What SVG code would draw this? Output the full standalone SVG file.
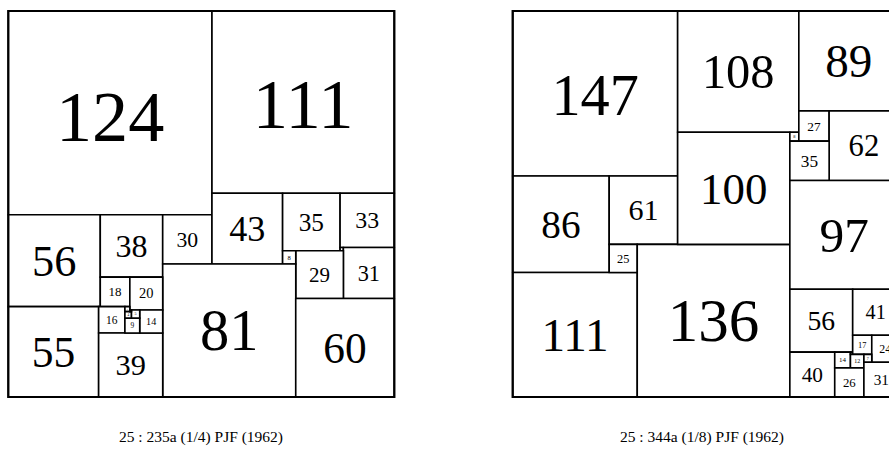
<svg xmlns="http://www.w3.org/2000/svg" width="889" height="452" viewBox="0 0 889 452">
<style>
.sq{fill:#fff;stroke:#000;stroke-width:1.6px;vector-effect:non-scaling-stroke}
.ob{fill:none;stroke:#000;stroke-width:2.2px;vector-effect:non-scaling-stroke}
.lb{font-family:"Liberation Serif","Times New Roman",serif;text-anchor:middle;fill:#000}
.cap{font-family:"Liberation Serif","Times New Roman",serif;text-anchor:middle;fill:#000;font-size:15.5px}
</style>
<rect width="889" height="452" fill="#fff"/>
<g id="left" transform="translate(8.3,11) scale(1.642553)">
<g id="L124"><rect class="sq" x="0" y="0" width="124" height="124"/><text class="lb" x="62" y="79" font-size="44">124</text></g>
<g id="L111"><rect class="sq" x="124" y="0" width="111" height="111"/><text class="lb" x="179.5" y="71" font-size="43">111</text></g>
<g id="L56"><rect class="sq" x="0" y="124" width="56" height="56"/><text class="lb" x="28" y="161.2" font-size="27">56</text></g>
<g id="L55"><rect class="sq" x="0" y="180" width="55" height="55"/><text class="lb" x="27.5" y="216.5" font-size="26.5">55</text></g>
<g id="L38"><rect class="sq" x="56" y="124" width="38" height="38"/><text class="lb" x="75" y="149.6" font-size="19.5">38</text></g>
<g id="L30"><rect class="sq" x="94" y="124" width="30" height="30"/><text class="lb" x="109" y="143.5" font-size="13.2">30</text></g>
<g id="L43"><rect class="sq" x="124" y="111" width="43" height="43"/><text class="lb" x="145.5" y="140" font-size="22">43</text></g>
<g id="L35"><rect class="sq" x="167" y="111" width="35" height="35"/><text class="lb" x="184.5" y="133.7" font-size="15.4">35</text></g>
<g id="L33"><rect class="sq" x="202" y="111" width="33" height="33"/><text class="lb" x="218.5" y="132.4" font-size="14.5">33</text></g>
<g id="L2"><rect class="sq" x="202" y="144" width="2" height="2"/></g>
<g id="L31"><rect class="sq" x="204" y="144" width="31" height="31"/><text class="lb" x="219.5" y="164.1" font-size="13.6">31</text></g>
<g id="L29"><rect class="sq" x="175" y="146" width="29" height="29"/><text class="lb" x="189.5" y="164.8" font-size="12.8">29</text></g>
<g id="L8"><rect class="sq" x="167" y="146" width="8" height="8"/><text class="lb" x="171" y="151.4" font-size="4">8</text></g>
<g id="L81"><rect class="sq" x="94" y="154" width="81" height="81"/><text class="lb" x="134.5" y="206.6" font-size="35.6">81</text></g>
<g id="L60"><rect class="sq" x="175" y="175" width="60" height="60"/><text class="lb" x="205" y="214" font-size="26.4">60</text></g>
<g id="L18"><rect class="sq" x="56" y="162" width="18" height="18"/><text class="lb" x="65" y="173.7" font-size="7.9">18</text></g>
<g id="L20"><rect class="sq" x="74" y="162" width="20" height="20"/><text class="lb" x="84" y="175" font-size="8.8">20</text></g>
<g id="L16"><rect class="sq" x="55" y="180" width="16" height="16"/><text class="lb" x="63" y="190.4" font-size="7">16</text></g>
<g id="L39"><rect class="sq" x="55" y="196" width="39" height="39"/><text class="lb" x="74.5" y="221.8" font-size="18.5">39</text></g>
<g id="L14"><rect class="sq" x="80" y="182" width="14" height="14"/><text class="lb" x="87" y="191.1" font-size="6.2">14</text></g>
<g id="L9"><rect class="sq" x="71" y="187" width="9" height="9"/><text class="lb" x="75.5" y="193" font-size="4.5">9</text></g>
<g id="L3"><rect class="sq" x="71" y="180" width="3" height="3"/><text class="lb" x="72.5" y="182" font-size="1.5">3</text></g>
<g id="L4"><rect class="sq" x="71" y="183" width="4" height="4"/><text class="lb" x="73" y="185.7" font-size="2">4</text></g>
<g id="L5"><rect class="sq" x="75" y="182" width="5" height="5"/><text class="lb" x="77.5" y="185.35" font-size="2.5">5</text></g>
<g id="L1"><rect class="sq" x="74" y="182" width="1" height="1"/></g>
<rect class="ob" x="0" y="0" width="235" height="235"/>
</g>
<g id="right" transform="translate(512.7,11) scale(1.122093)">
<g id="R147"><rect class="sq" x="0" y="0" width="147" height="147"/><text class="lb" x="73.5" y="93" font-size="52">147</text></g>
<g id="R108"><rect class="sq" x="147" y="0" width="108" height="108"/><text class="lb" x="201" y="68.7" font-size="43.2">108</text></g>
<g id="R89"><rect class="sq" x="255" y="0" width="89" height="89"/><text class="lb" x="299.5" y="58.8" font-size="42">89</text></g>
<g id="R86"><rect class="sq" x="0" y="147" width="86" height="86"/><text class="lb" x="43" y="201.9" font-size="35">86</text></g>
<g id="R111"><rect class="sq" x="0" y="233" width="111" height="111"/><text class="lb" x="55.5" y="302.8" font-size="42">111</text></g>
<g id="R61"><rect class="sq" x="86" y="147" width="61" height="61"/><text class="lb" x="116.5" y="186.6" font-size="26.8">61</text></g>
<g id="R25"><rect class="sq" x="86" y="208" width="25" height="25"/><text class="lb" x="98.5" y="224.2" font-size="11">25</text></g>
<g id="R136"><rect class="sq" x="111" y="208" width="136" height="136"/><text class="lb" x="179" y="294.5" font-size="54.4">136</text></g>
<g id="R100"><rect class="sq" x="147" y="108" width="100" height="100"/><text class="lb" x="197" y="171.6" font-size="40">100</text></g>
<g id="R8"><rect class="sq" x="247" y="108" width="8" height="8"/><text class="lb" x="251" y="113.4" font-size="4">8</text></g>
<g id="R27"><rect class="sq" x="255" y="89" width="27" height="27"/><text class="lb" x="268.5" y="106.5" font-size="11.9">27</text></g>
<g id="R62"><rect class="sq" x="282" y="89" width="62" height="62"/><text class="lb" x="313" y="129.3" font-size="27.3">62</text></g>
<g id="R35"><rect class="sq" x="247" y="116" width="35" height="35"/><text class="lb" x="264.5" y="138.7" font-size="15.4">35</text></g>
<g id="R97"><rect class="sq" x="247" y="151" width="97" height="97"/><text class="lb" x="295.5" y="214.5" font-size="44">97</text></g>
<g id="R56"><rect class="sq" x="247" y="248" width="56" height="56"/><text class="lb" x="275" y="284.4" font-size="24.6">56</text></g>
<g id="R41"><rect class="sq" x="303" y="248" width="41" height="41"/><text class="lb" x="323.5" y="274.6" font-size="18">41</text></g>
<g id="R40"><rect class="sq" x="247" y="304" width="40" height="40"/><text class="lb" x="267" y="330.5" font-size="19">40</text></g>
<g id="R14"><rect class="sq" x="287" y="304" width="14" height="14"/><text class="lb" x="294" y="313.1" font-size="6.2">14</text></g>
<g id="R2"><rect class="sq" x="301" y="304" width="2" height="2"/></g>
<g id="R17"><rect class="sq" x="303" y="289" width="17" height="17"/><text class="lb" x="311.5" y="300" font-size="7.5">17</text></g>
<g id="R24"><rect class="sq" x="320" y="289" width="24" height="24"/><text class="lb" x="332" y="304.6" font-size="10.6">24</text></g>
<g id="R12"><rect class="sq" x="301" y="306" width="12" height="12"/><text class="lb" x="307" y="313.8" font-size="5.3">12</text></g>
<g id="R7"><rect class="sq" x="313" y="306" width="7" height="7"/><text class="lb" x="316.5" y="310.7" font-size="3.5">7</text></g>
<g id="R26"><rect class="sq" x="287" y="318" width="26" height="26"/><text class="lb" x="300" y="334.9" font-size="11.4">26</text></g>
<g id="R31"><rect class="sq" x="313" y="313" width="31" height="31"/><text class="lb" x="328.5" y="333.1" font-size="13.6">31</text></g>
<rect class="ob" x="0" y="0" width="344" height="344"/>
</g>
<text class="cap" x="201" y="442">25 : 235a (1/4) PJF (1962)</text>
<text class="cap" x="702" y="442">25 : 344a (1/8) PJF (1962)</text>
</svg>
